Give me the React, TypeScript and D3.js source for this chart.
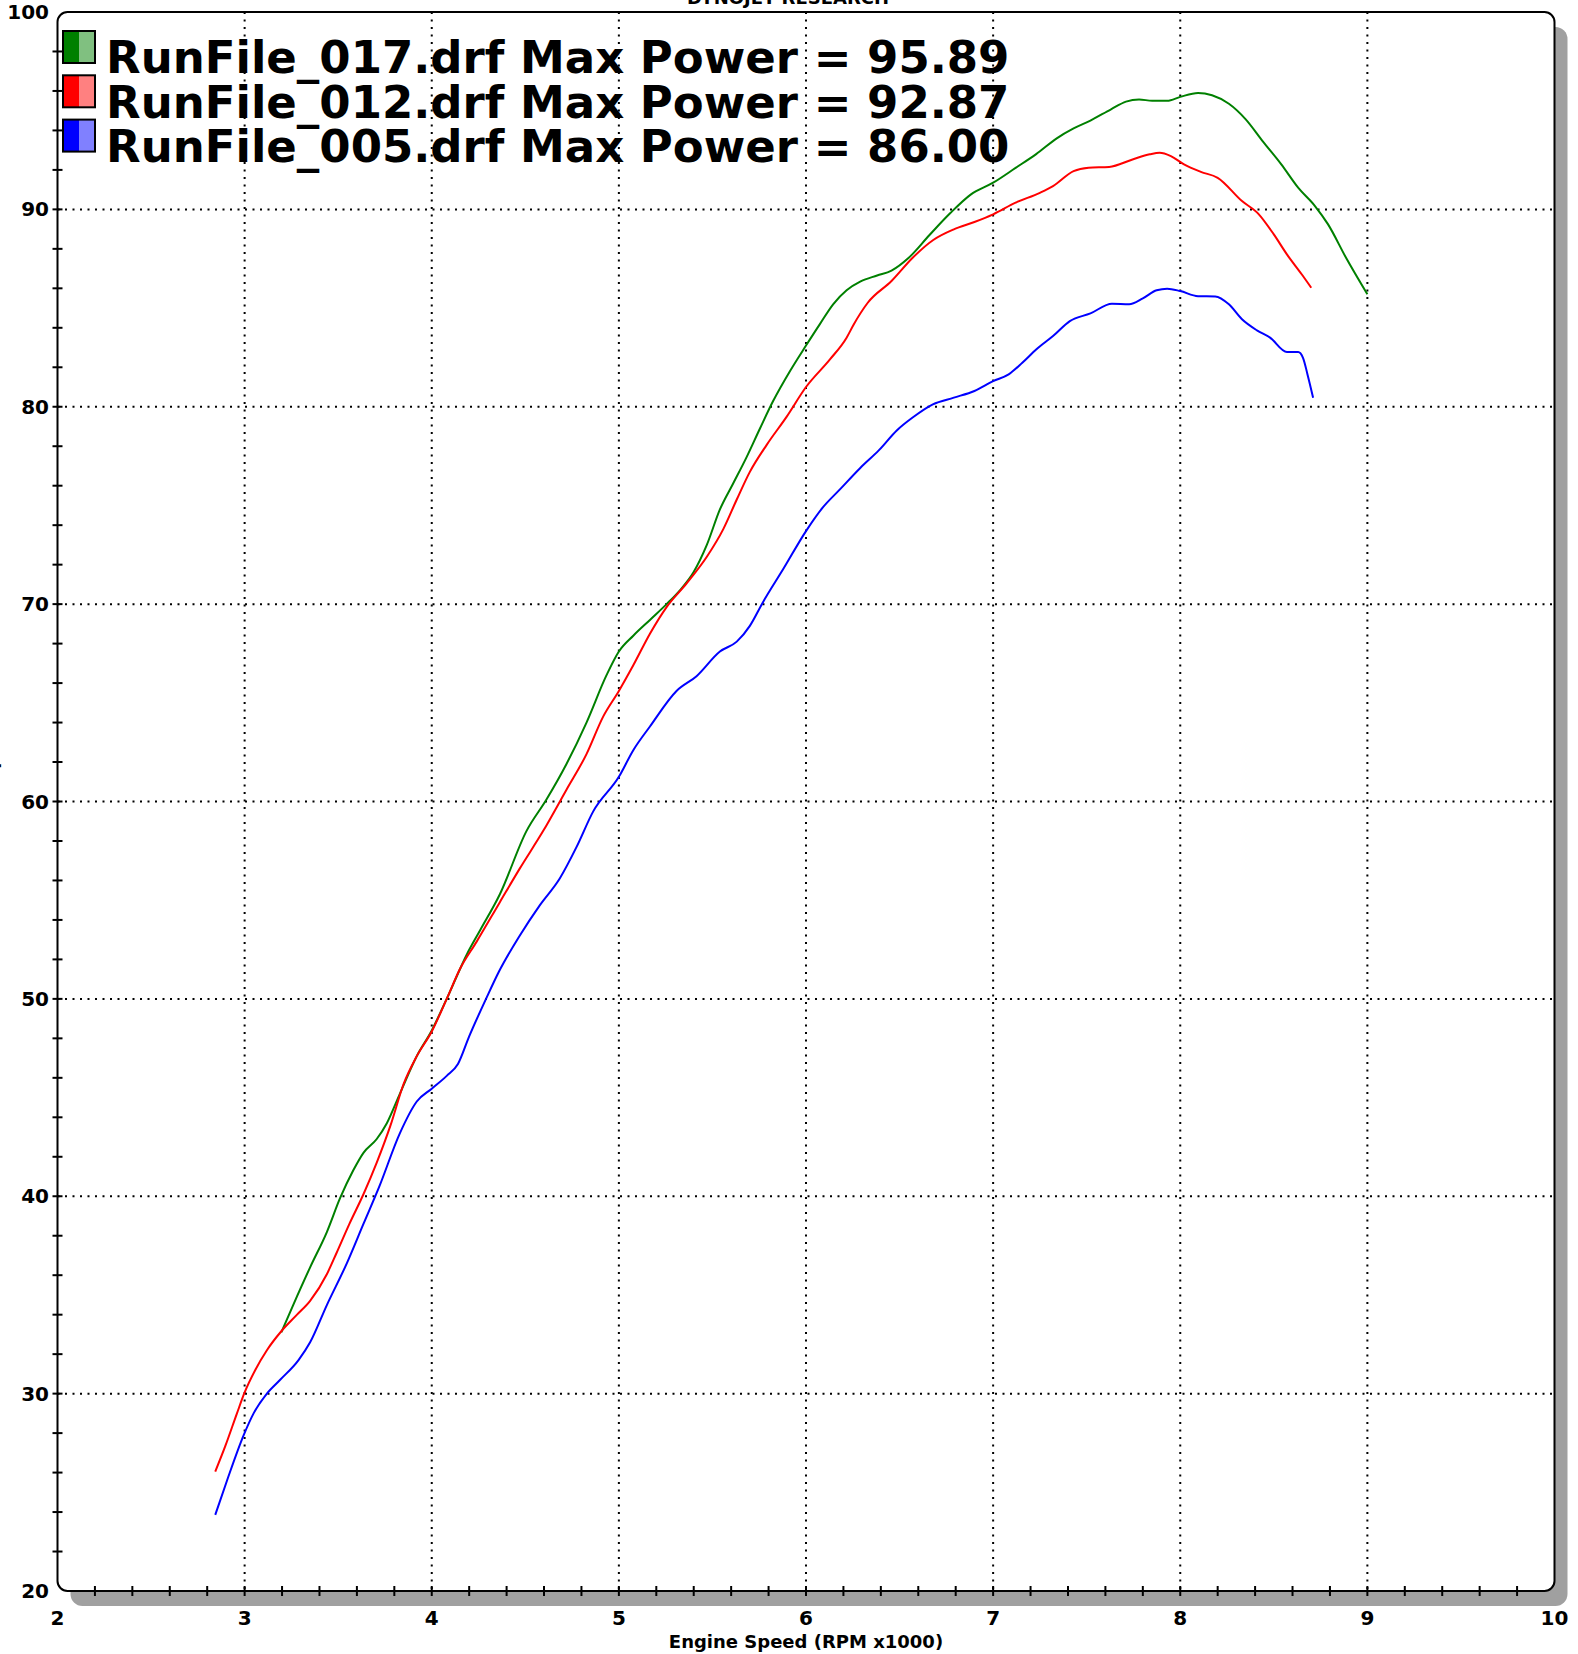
import React from "react";
import * as d3 from "d3";

const W = 1578;
const H = 1654;

const xTicks = [2, 3, 4, 5, 6, 7, 8, 9, 10];
const yTicks = [20, 30, 40, 50, 60, 70, 80, 90, 100];

const run017Rpm = [3.196, 3.26, 3.35, 3.44, 3.51, 3.58, 3.635, 3.706, 3.76, 3.83, 3.92, 4.0, 4.08, 4.19, 4.26, 4.364, 4.506, 4.613, 4.72, 4.827, 4.934, 5.0, 5.077, 5.166, 5.255, 5.326, 5.398, 5.47, 5.54, 5.61, 5.68, 5.754, 5.825, 5.914, 6.0, 6.075, 6.146, 6.217, 6.292, 6.38, 6.457, 6.549, 6.66, 6.77, 6.88, 7.0, 7.12, 7.23, 7.34, 7.43, 7.52, 7.63, 7.71, 7.78, 7.85, 7.93, 8.0, 8.095, 8.17, 8.26, 8.35, 8.44, 8.54, 8.63, 8.72, 8.79, 8.886, 9.0];
const run017Power = [33.1, 34.5, 36.4, 38.2, 39.9, 41.3, 42.2, 42.9, 43.7, 45.2, 47.1, 48.4, 50.0, 52.3, 53.5, 55.3, 58.5, 60.1, 61.9, 64.0, 66.4, 67.6, 68.4, 69.2, 70.0, 70.7, 71.6, 73.0, 74.8, 76.1, 77.4, 78.9, 80.3, 81.8, 83.1, 84.2, 85.2, 85.9, 86.35, 86.65, 86.9, 87.55, 88.7, 89.8, 90.75, 91.35, 92.1, 92.8, 93.6, 94.1, 94.5, 95.07, 95.46, 95.57, 95.5, 95.5, 95.7, 95.9, 95.78, 95.35, 94.56, 93.46, 92.28, 91.1, 90.17, 89.24, 87.55, 85.7];

const run012Rpm = [2.843, 2.897, 2.959, 3.0, 3.057, 3.119, 3.196, 3.28, 3.35, 3.44, 3.49, 3.56, 3.635, 3.706, 3.78, 3.85, 3.92, 4.0, 4.08, 4.15, 4.24, 4.364, 4.47, 4.595, 4.72, 4.827, 4.916, 5.0, 5.077, 5.166, 5.255, 5.362, 5.47, 5.558, 5.63, 5.7, 5.79, 5.897, 6.0, 6.128, 6.217, 6.255, 6.33, 6.457, 6.57, 6.68, 6.79, 6.9, 7.0, 7.12, 7.25, 7.32, 7.43, 7.51, 7.62, 7.745, 7.837, 7.89, 7.95, 8.02, 8.11, 8.2, 8.33, 8.42, 8.5, 8.57, 8.65, 8.7];
const run012Power = [26.05, 27.35, 29.0, 30.06, 31.2, 32.2, 33.16, 34.0, 34.7, 36.06, 37.1, 38.6, 40.1, 41.7, 43.6, 45.7, 47.1, 48.35, 50.0, 51.5, 52.9, 54.9, 56.6, 58.5, 60.6, 62.4, 64.3, 65.6, 66.9, 68.5, 69.85, 71.05, 72.4, 73.8, 75.3, 76.7, 78.07, 79.5, 81.0, 82.4, 83.5, 84.17, 85.27, 86.37, 87.55, 88.45, 88.99, 89.36, 89.75, 90.34, 90.84, 91.18, 91.94, 92.11, 92.15, 92.53, 92.79, 92.87, 92.7, 92.28, 91.9, 91.6, 90.42, 89.75, 88.73, 87.72, 86.7, 86.03];

const run005Rpm = [2.843, 2.906, 2.995, 3.048, 3.119, 3.19, 3.288, 3.35, 3.44, 3.546, 3.635, 3.72, 3.83, 3.92, 4.0, 4.08, 4.14, 4.2, 4.29, 4.36, 4.47, 4.578, 4.684, 4.774, 4.863, 5.0, 5.077, 5.166, 5.308, 5.415, 5.54, 5.63, 5.7, 5.77, 5.88, 6.0, 6.09, 6.18, 6.29, 6.39, 6.485, 6.568, 6.678, 6.79, 6.9, 7.0, 7.083, 7.156, 7.23, 7.32, 7.41, 7.52, 7.635, 7.727, 7.8, 7.874, 7.93, 8.0, 8.095, 8.187, 8.26, 8.33, 8.41, 8.48, 8.57, 8.63, 8.656, 8.68, 8.71];
const run005Power = [23.86, 25.6, 27.9, 29.0, 30.0, 30.7, 31.7, 32.6, 34.5, 36.6, 38.6, 40.5, 43.2, 44.8, 45.45, 46.1, 46.7, 48.1, 50.0, 51.4, 53.2, 54.75, 56.1, 57.7, 59.5, 61.25, 62.6, 63.8, 65.6, 66.35, 67.6, 68.1, 68.9, 70.1, 71.8, 73.7, 74.9, 75.8, 76.9, 77.8, 78.8, 79.44, 80.12, 80.46, 80.8, 81.3, 81.64, 82.23, 82.9, 83.58, 84.34, 84.73, 85.22, 85.19, 85.49, 85.9, 85.98, 85.86, 85.6, 85.59, 85.19, 84.43, 83.87, 83.5, 82.77, 82.77, 82.48, 81.64, 80.46];

const runNames = ["RunFile_017.drf", "RunFile_012.drf", "RunFile_005.drf"];
const runMaxPower = ["95.89", "92.87", "86.00"];
const runColors = ["#008000", "#ff0000", "#0000ff"];
const runLight = ["#80c080", "#ff8080", "#8080ff"];

const series = [
  { rpm: run017Rpm, power: run017Power },
  { rpm: run012Rpm, power: run012Power },
  { rpm: run005Rpm, power: run005Power },
];

const L = 57.5;
const R = 1554.5;
const T = 12;
const B = 1591;

const FONT = "'DejaVu Sans', Verdana, sans-serif";

export default function App() {
  const x = d3.scaleLinear().domain([2, 10]).range([L, R]);
  const y = d3.scaleLinear().domain([20, 100]).range([B, T]);

  const minorX = d3.range(2, 10.001, 0.2);
  const minorY = d3.range(20, 100.001, 2);

  const line = d3
    .line<[number, number]>()
    .x((d) => x(d[0]))
    .y((d) => y(d[1]))
    .curve(d3.curveMonotoneX);

  return (
    <svg
      width={W}
      height={H}
      style={{ position: "absolute", left: 0, top: 0, background: "#fff" }}
      fontFamily={FONT}
    >
      <rect x={0} y={0} width={W} height={H} fill="#fff" />
      {/* title, clipped at top */}
      <text x={788} y={4} textAnchor="middle" fontSize={18} fontWeight="bold">
        DYNOJET RESEARCH
      </text>
      {/* shadow */}
      <rect x={L + 13} y={T + 15} width={R - L} height={B - T} rx={12} fill="#a0a0a0" />
      {/* frame */}
      <rect x={L} y={T} width={R - L} height={B - T} rx={10} fill="#fff" stroke="#000" strokeWidth={2} />

      {/* grid */}
      {xTicks.slice(1, -1).map((t) => (
        <line key={"gx" + t} x1={x(t)} x2={x(t)} y1={T} y2={B} stroke="#000" strokeWidth={2} strokeDasharray="2 5.5" />
      ))}
      {yTicks.slice(1, -1).map((t) => (
        <line key={"gy" + t} x1={L} x2={R} y1={y(t)} y2={y(t)} stroke="#000" strokeWidth={2} strokeDasharray="2 5.5" />
      ))}

      {/* ticks */}
      {minorX.slice(1, -1).map((t, i) => (
        <line key={"tx" + i} x1={x(t)} x2={x(t)} y1={B - 5} y2={B + 5} stroke="#000" strokeWidth={2} />
      ))}
      {minorY.slice(1, -1).map((t, i) => (
        <line key={"ty" + i} x1={L - 5} x2={L + 5} y1={y(t)} y2={y(t)} stroke="#000" strokeWidth={2} />
      ))}

      {/* tick labels */}
      {xTicks.map((t) => (
        <text key={"lx" + t} x={x(t)} y={1625} textAnchor="middle" fontSize={20} fontWeight="bold">
          {t}
        </text>
      ))}
      {yTicks.map((t) => (
        <text key={"ly" + t} x={49} y={y(t) + 7} textAnchor="end" fontSize={20} fontWeight="bold">
          {t}
        </text>
      ))}

      {/* axis titles */}
      <text x={(L + R) / 2} y={1648} textAnchor="middle" fontSize={18} fontWeight="bold">
        Engine Speed (RPM x1000)
      </text>
      <text
        transform={`translate(-3, ${(T + B) / 2}) rotate(-90)`}
        textAnchor="middle"
        fontSize={17}
        fontWeight="bold"
      >
        Power (hp)
      </text>

      {/* curves */}
      {series.map((s, i) => (
        <path
          key={"s" + i}
          d={line(s.rpm.map((r, j) => [r, s.power[j]] as [number, number])) || ""}
          fill="none"
          stroke={runColors[i]}
          strokeWidth={2}
        />
      ))}

      {/* legend */}
      {runNames.map((n, i) => {
        const sy = 31 + i * 44.3;
        return (
          <g key={"lg" + i}>
            <rect x={63} y={sy} width={16} height={32} fill={runColors[i]} />
            <rect x={79} y={sy} width={16} height={32} fill={runLight[i]} />
            <rect x={63} y={sy} width={32} height={32} fill="none" stroke="#000" strokeWidth={2} />
            <text x={106} y={73 + i * 44.5} fontSize={45} fontWeight="bold">
              {`${n} Max Power = ${runMaxPower[i]}`}
            </text>
          </g>
        );
      })}
    </svg>
  );
}
